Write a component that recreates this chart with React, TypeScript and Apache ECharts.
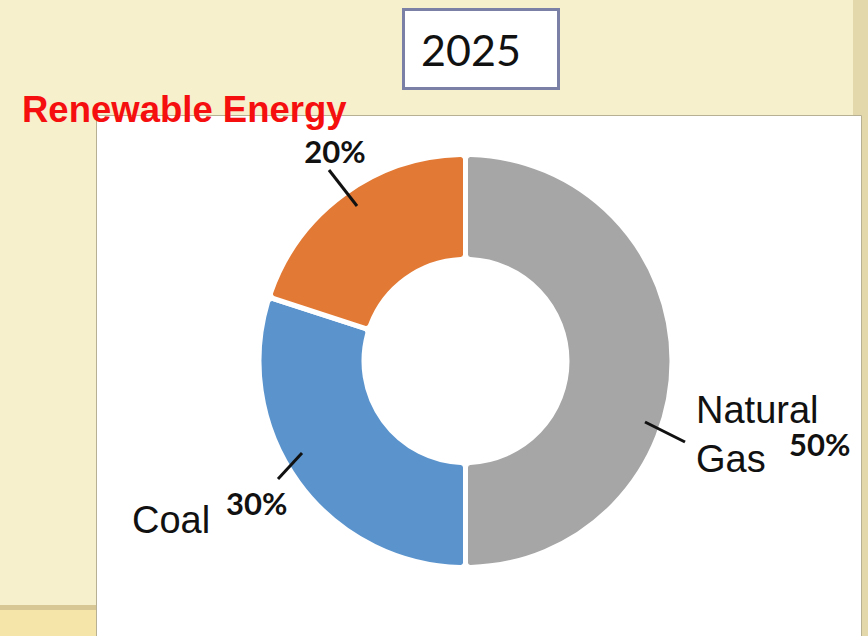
import React, { useEffect, useRef } from "react";
import * as echarts from "echarts";

const categories = ["Natural Gas", "Coal", "Renewable Energy"];
const values = [50, 30, 20];
const colors = ["#a6a6a6", "#5b94cd", "#e27a35"];
const yearLabel = "2025";
const titleText = "Renewable Energy";

export default function App() {
  const ref = useRef<HTMLDivElement>(null);

  useEffect(() => {
    if (!ref.current) return;
    const chart = echarts.init(ref.current, null, { renderer: "svg" });

    const pctFont = "bold 31px Lato, 'Open Sans', sans-serif";
    const nameFont = "38px 'Liberation Sans', Arial, sans-serif";

    chart.setOption({
      animation: false,
      backgroundColor: "#f7f0cd",
      graphic: [
        { type: "rect", z: 0, shape: { x: 853, y: 0, width: 15, height: 636 }, style: { fill: "#e3d8ab" } },
        { type: "rect", z: 0, shape: { x: 0, y: 605, width: 100, height: 31 }, style: { fill: "#f6e5a9" } },
        { type: "rect", z: 0, shape: { x: 0, y: 605, width: 100, height: 5 }, style: { fill: "#d6c794" } },
        {
          type: "rect",
          z: 1,
          shape: { x: 96.5, y: 115.5, width: 765, height: 530 },
          style: { fill: "#ffffff", stroke: "#b8b093", lineWidth: 1 },
        },
        {
          type: "rect",
          z: 5,
          shape: { x: 403.5, y: 9.5, width: 155, height: 79 },
          style: { fill: "#ffffff", stroke: "#7b80a6", lineWidth: 3 },
        },
        {
          type: "text",
          z: 6,
          style: {
            x: 471,
            y: 49,
            text: yearLabel,
            font: "43px Lato, 'Open Sans', sans-serif",
            fill: "#111111",
            textAlign: "center",
            textVerticalAlign: "middle",
          },
        },
        {
          type: "text",
          z: 20,
          style: {
            x: 22,
            y: 109,
            text: titleText,
            font: "bold 36.5px 'Liberation Sans', Arial, sans-serif",
            fill: "#f50f0f",
            textAlign: "left",
            textVerticalAlign: "middle",
          },
        },
        { type: "line", z: 20, shape: { x1: 329, y1: 170, x2: 357, y2: 206 }, style: { stroke: "#111", lineWidth: 3 } },
        { type: "line", z: 20, shape: { x1: 645, y1: 422, x2: 685, y2: 442 }, style: { stroke: "#111", lineWidth: 3 } },
        { type: "line", z: 20, shape: { x1: 302, y1: 453, x2: 278, y2: 479 }, style: { stroke: "#111", lineWidth: 3 } },
        {
          type: "text",
          z: 20,
          style: { x: 335, y: 151, text: `${values[2]}%`, font: pctFont, fill: "#111", textAlign: "center", textVerticalAlign: "middle" },
        },
        {
          type: "text",
          z: 20,
          style: { x: 696, y: 410, text: "Natural", font: nameFont, fill: "#111", textAlign: "left", textVerticalAlign: "middle" },
        },
        {
          type: "text",
          z: 20,
          style: { x: 696, y: 459, text: "Gas", font: nameFont, fill: "#111", textAlign: "left", textVerticalAlign: "middle" },
        },
        {
          type: "text",
          z: 20,
          style: { x: 789, y: 444, text: `${values[0]}%`, font: pctFont, fill: "#111", textAlign: "left", textVerticalAlign: "middle" },
        },
        {
          type: "text",
          z: 20,
          style: { x: 132, y: 520, text: categories[1], font: nameFont, fill: "#111", textAlign: "left", textVerticalAlign: "middle" },
        },
        {
          type: "text",
          z: 20,
          style: { x: 226, y: 503, text: `${values[1]}%`, font: pctFont, fill: "#111", textAlign: "left", textVerticalAlign: "middle" },
        },
      ],
      series: [
        {
          type: "pie",
          z: 10,
          center: [465.5, 361],
          radius: [101.5, 206.5],
          startAngle: 90,
          clockwise: true,
          label: { show: false },
          labelLine: { show: false },
          emphasis: { disabled: true },
          itemStyle: { borderColor: "#ffffff", borderWidth: 5, borderRadius: 5 },
          data: categories.map((name, i) => ({
            name,
            value: values[i],
            itemStyle: { color: colors[i] },
          })),
        },
      ],
    });

    return () => chart.dispose();
  }, []);

  return (
    <div
      ref={ref}
      style={{ position: "fixed", left: 0, top: 0, width: 868, height: 636 }}
    />
  );
}
